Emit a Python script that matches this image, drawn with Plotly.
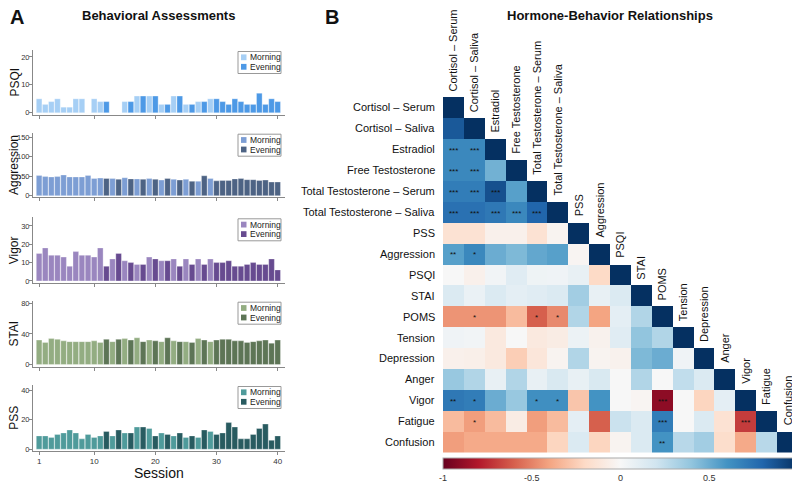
import plotly.graph_objects as go

# page is drawn with an 8px body margin, so the figure is 8px smaller and shifted
OFF = 8
W, H = 800 - OFF, 485 - OFF

# ---------------- data: panel A ----------------
sessions = list(range(1, 41))
period = (["M"] * 11 +
          ["E", "M", "E", "M", "E", "M", "E", "M", "E", "M",
           "E", "M", "E", "M", "E", "M", "E", "M"] +
          ["E"] * 11)

psqi = [5, 3, 4, 5, 2, 2, 5, 5, None, 5, 4, 4, None, None, 4, 4, 6, 6, 6, 6,
        3, 3, 6, 6, 3, 3, 4, 4, 5, 5, 4, 3, 5, 4, 3, 3, 7, 3, 5, 4]
aggression = [52, 49, 48, 49, 53, 48, 48, 48, 52, 44, 45, 44, 44, 42, 46, 43, 43, 42, 44, 42,
              40, 44, 42, 40, 42, 37, 37, 51, 44, 38, 39, 39, 43, 44, 41, 41, 39, 40, 35, 35]
vigor = [15, 18, 14, 14, 13, 8, 16, 14, 14, 13, 18, 8, 12, 15, 11, 10, 9, 9, 13, 12,
         11, 11, 12, 8, 12, 9, 12, 9, 12, 10, 10, 11, 8, 8, 9, 10, 9, 9, 12, 6]
stai = [32, 29, 34, 33, 31, 30, 30, 30, 30, 31, 29, 33, 30, 33, 34, 32, 35, 30, 32, 31,
        30, 35, 31, 30, 30, 29, 34, 32, 30, 32, 33, 33, 31, 31, 29, 30, 31, 32, 28, 32]
pss = [9, 9, 8, 10, 11, 13, 11, 7, 10, 8, 9, 12, 9, 13, 11, 11, 15, 15, 14, 9,
       11, 10, 9, 11, 8, 9, 8, 13, 12, 10, 11, 18, 15, 7, 7, 10, 14, 17, 6, 9]

panel_names = ["PSQI", "Aggression", "Vigor", "STAI", "PSS"]
panel_values = [psqi, aggression, vigor, stai, pss]
panel_ticks = [[0, 10, 20], [0, 50, 100, 150], [0, 10, 20, 30], [0, 40, 80], [0, 20, 40]]
panel_ranges = [[-0.8, 22.5], [-4, 161], [-1.3, 34.7], [-2.5, 83.5], [-1, 43.4]]
morning_colors = ["#a6cff5", "#7d9ed4", "#9a86bf", "#93ad82", "#4f9b9b"]
evening_colors = ["#4d99e6", "#4d6384", "#674b90", "#5d7556", "#285b60"]
session_ticks = [1, 10, 20, 30, 40]

# ---------------- data: panel B ----------------
variables = ["Cortisol – Serum", "Cortisol – Saliva", "Estradiol", "Free Testosterone",
             "Total Testosterone – Serum", "Total Testosterone – Saliva", "PSS", "Aggression",
             "PSQI", "STAI", "POMS", "Tension", "Depression", "Anger", "Vigor", "Fatigue",
             "Confusion"]
corr_rows = [
    [1],
    [0.85, 1],
    [0.65, 0.65, 1],
    [0.65, 0.65, 0.48, 1],
    [0.70, 0.70, 0.88, 0.55, 1],
    [0.75, 0.75, 0.72, 0.65, 0.80, 1],
    [-0.15, -0.15, -0.05, -0.05, -0.15, -0.03, 1],
    [0.55, 0.65, 0.50, 0.45, 0.52, 0.55, -0.02, 1],
    [0.0, -0.05, 0.03, 0.12, 0.05, 0.04, 0.08, -0.2, 1],
    [0.15, 0.07, 0.15, 0.10, 0.12, 0.15, 0.35, 0.08, 0.15, 1],
    [-0.45, -0.45, -0.45, -0.32, -0.60, -0.48, 0.30, -0.40, 0.10, 0.30, 1],
    [0.04, 0.03, -0.10, 0.0, -0.10, -0.08, 0.06, -0.04, 0.12, 0.40, 0.30, 1],
    [-0.05, -0.06, -0.10, -0.25, -0.12, -0.03, 0.30, -0.03, -0.04, 0.45, 0.50, 0.04, 1],
    [0.38, 0.30, 0.08, 0.30, 0.08, 0.16, 0.08, 0.16, 0.0, 0.30, 0.0, 0.25, 0.15, 1],
    [0.72, 0.70, 0.50, 0.38, 0.62, 0.62, -0.28, 0.60, 0.0, -0.02, -0.90, 0.0, -0.22, 0.10, 1],
    [-0.32, -0.42, -0.32, -0.08, -0.42, -0.32, 0.10, -0.60, 0.22, 0.15, 0.70, 0.0, 0.15, -0.15,
     -0.70, 1],
    [-0.42, -0.38, -0.38, -0.38, -0.38, -0.22, 0.15, -0.22, -0.03, 0.15, 0.60, 0.28, 0.35, -0.18,
     -0.38, 0.28, 1],
]
sig_rows = [2, 2, 3, 3, 4, 4, 4, 5, 5, 5, 5, 5, 7, 7, 10, 10, 10, 14, 14, 14, 14, 14, 15, 15, 15, 16]
sig_cols = [0, 1, 0, 1, 0, 1, 2, 0, 1, 2, 3, 4, 0, 1, 1, 4, 5, 0, 1, 4, 5, 10, 1, 10, 14, 10]
sig_text = ["***", "***", "***", "***", "***", "***", "***", "***", "***", "***", "***", "***",
            "**", "*", "*", "*", "*", "**", "*", "*", "*", "***", "*", "***", "***", "**"]

rdbu = ["rgb(103,0,31)", "rgb(178,24,43)", "rgb(214,96,77)", "rgb(244,165,130)",
        "rgb(253,219,199)", "rgb(247,247,247)", "rgb(209,229,240)", "rgb(146,197,222)",
        "rgb(67,147,195)", "rgb(33,102,172)", "rgb(5,48,97)"]


def px_x(x):
    return (x - OFF) / W


def px_y(y):
    return 1 - (y - OFF) / H


fig = go.Figure()
layout = dict(width=W, height=H, margin=dict(l=0, r=0, t=0, b=0, autoexpand=False),
              paper_bgcolor="white", plot_bgcolor="white", showlegend=False,
              font=dict(family="Liberation Sans, Arial, sans-serif", color="#1a1a1a"),
              barmode="overlay")
annotations = []
shapes = []

panel_px = [(50, 115), (132.7, 197.3), (217.3, 283.3), (300.7, 366.5), (385, 450.7)]
xdom = [px_x(33), px_x(285)]

for i in range(5):
    k = i + 1
    vals = panel_values[i]
    mvals = [v if p == "M" else None for v, p in zip(vals, period)]
    evals = [v if p == "E" else None for v, p in zip(vals, period)]
    for yv, col, nm in [(mvals, morning_colors[i], "Morning"), (evals, evening_colors[i], "Evening")]:
        fig.add_trace(go.Bar(x=sessions, y=yv, name=nm, width=0.92,
                             marker=dict(color=col, line=dict(color="rgba(255,255,255,0.6)", width=0.5)),
                             xaxis=f"x{k}", yaxis=f"y{k}"))
    top, bot = panel_px[i]
    sfx = "" if k == 1 else str(k)
    layout[f"xaxis{sfx}"] = dict(domain=xdom, range=[0, 41.2], anchor=f"y{k}",
                                 tickvals=session_ticks, showticklabels=(k == 5),
                                 ticks="outside", ticklen=3, tickcolor="#888",
                                 showline=True, linecolor="#888", linewidth=1,
                                 showgrid=False, zeroline=False,
                                 tickfont=dict(size=8, color="#333"))
    layout[f"yaxis{sfx}"] = dict(domain=[px_y(bot), px_y(top)], range=panel_ranges[i],
                                 anchor=f"x{k}", tickvals=panel_ticks[i],
                                 ticks="outside", ticklen=3, tickcolor="#888",
                                 showline=True, linecolor="#888", linewidth=1,
                                 showgrid=False, zeroline=False, ticklabelstandoff=-2,
                                 tickfont=dict(size=7.5, color="#333"))
    # y title
    annotations.append(dict(x=px_x(14), y=px_y((top + bot) / 2), xref="paper", yref="paper",
                            text=panel_names[i], textangle=-90, showarrow=False,
                            font=dict(size=12, color="#111"), xanchor="center", yanchor="middle"))
    # legend box
    shapes.append(dict(type="rect", xref="paper", yref="paper",
                       x0=px_x(238), x1=px_x(281), y0=px_y(top + 23.5), y1=px_y(top + 1.5),
                       line=dict(color="#999", width=1), fillcolor="white", layer="above"))
    for j, (lab, col) in enumerate([("Morning", morning_colors[i]), ("Evening", evening_colors[i])]):
        cy = top + 7.3 + j * 9.5
        shapes.append(dict(type="rect", xref="paper", yref="paper",
                           x0=px_x(241), x1=px_x(246.5), y0=px_y(cy + 2.9), y1=px_y(cy - 2.9),
                           line=dict(width=0), fillcolor=col, layer="above"))
        annotations.append(dict(x=px_x(247.5), y=px_y(cy), xref="paper", yref="paper",
                                text=lab, showarrow=False, xanchor="left", yanchor="middle",
                                font=dict(size=8.5, color="#222")))

annotations.append(dict(x=px_x(159), y=px_y(473), xref="paper", yref="paper", text="Session",
                        showarrow=False, font=dict(size=14, color="#111"),
                        xanchor="center", yanchor="middle"))

# ---------------- heatmap ----------------
n = len(variables)
z = []
for r in range(n):
    row = list(corr_rows[r]) + [None] * (n - len(corr_rows[r]))
    z.append(row)

fig.add_trace(go.Heatmap(
    z=z, x=list(range(n)), y=list(range(n)), colorscale=[[i / 10, c] for i, c in enumerate(rdbu)],
    zmin=-1, zmax=1, xaxis="x6", yaxis="y6", hoverongaps=False,
    colorbar=dict(orientation="h", x=px_x((443 + 798) / 2), xanchor="center",
                  len=355 / W, lenmode="fraction", y=px_y(458), yanchor="top",
                  thickness=11, ypad=0, xpad=0, outlinewidth=1, outlinecolor="#aaa",
                  tickvals=[-1, -0.5, 0, 0.5, 1], ticktext=["-1", "-0.5", "0", "0.5", "1"],
                  ticks="", tickfont=dict(size=9, color="#333"))))

layout["xaxis6"] = dict(domain=[px_x(443), px_x(798)], range=[-0.5, n - 0.5], anchor="y6",
                        showticklabels=False, showgrid=False, zeroline=False, showline=False,
                        ticks="")
layout["yaxis6"] = dict(domain=[px_y(452.6), px_y(97)], range=[n - 0.5, -0.5], anchor="x6",
                        showticklabels=False, showgrid=False, zeroline=False, showline=False,
                        ticks="")

for r in range(n):
    annotations.append(dict(x=px_x(437), y=r, xref="paper", yref="y6", text=variables[r],
                            showarrow=False, xanchor="right", yanchor="middle",
                            font=dict(size=11, color="#111")))
    annotations.append(dict(x=r, y=r - 0.5, xref="x6", yref="y6", text=variables[r],
                            textangle=-90, showarrow=False, xanchor="center", yanchor="bottom",
                            yshift=4, font=dict(size=11, color="#111")))

for r, c, t in zip(sig_rows, sig_cols, sig_text):
    annotations.append(dict(x=c, y=r, xref="x6", yref="y6", text=t, showarrow=False,
                            xanchor="center", yanchor="middle", yshift=-1,
                            font=dict(size=8, color="#111")))

# titles
annotations += [
    dict(x=px_x(8), y=px_y(17), xref="paper", yref="paper", text="<b>A</b>", showarrow=False,
         xanchor="left", yanchor="middle", font=dict(size=20, color="#111")),
    dict(x=px_x(158), y=px_y(15), xref="paper", yref="paper", text="<b>Behavioral Assessments</b>",
         showarrow=False, xanchor="center", yanchor="middle", font=dict(size=13, color="#111")),
    dict(x=px_x(323), y=px_y(17), xref="paper", yref="paper", text="<b>B</b>", showarrow=False,
         xanchor="left", yanchor="middle", font=dict(size=20, color="#111")),
    dict(x=px_x(610), y=px_y(15), xref="paper", yref="paper",
         text="<b>Hormone-Behavior Relationships</b>",
         showarrow=False, xanchor="center", yanchor="middle", font=dict(size=13, color="#111")),
]

layout["annotations"] = annotations
layout["shapes"] = shapes
fig.update_layout(**layout)
fig.write_html("out.html")
